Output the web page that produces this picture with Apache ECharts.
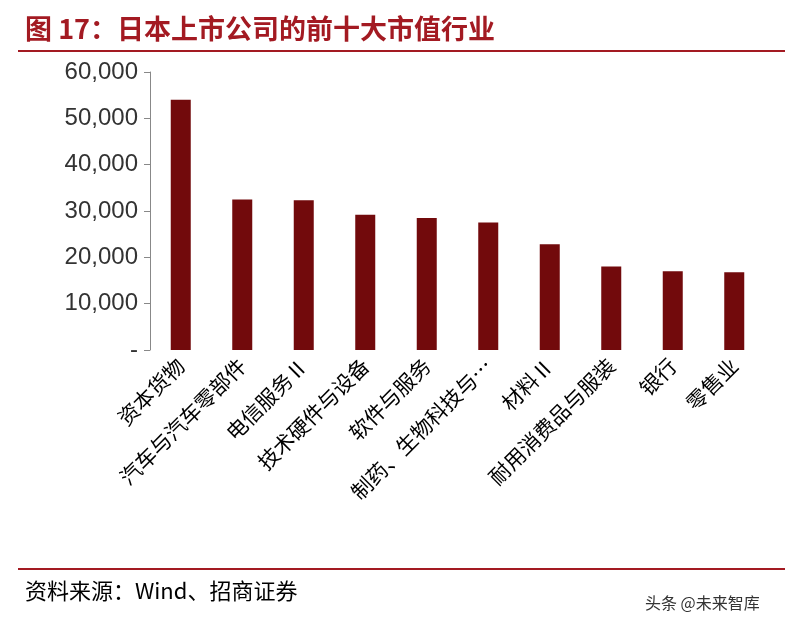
<!DOCTYPE html>
<html><head><meta charset="utf-8">
<script src="https://cdn.jsdelivr.net/npm/echarts@6/dist/echarts.min.js"></script>
<style>body{margin:0}#c{width:805px;height:625px}</style></head>
<body><div id="c"></div>
<script>
const categories=['资本货物','汽车与汽车零部件','电信服务Ⅱ','技术硬件与设备','软件与服务','制药、生物科技与…','材料Ⅱ','耐用消费品与服装','银行','零售业'];
const values=[54000,32500,32300,29200,28500,27500,22800,18000,17000,16800];
const yTicks=[0,10000,20000,30000,40000,50000,60000];
const red='#720A0C';
const chart=echarts.init(document.getElementById('c'));
chart.setOption({
 animation:false,
 title:[{text:'图 17：日本上市公司的前十大市值行业',left:20,top:10,textStyle:{color:'#A31A22',fontSize:27,fontWeight:'bold',fontFamily:'Noto Sans CJK SC'}},
 {text:'资料来源：Wind、招商证券',left:20,top:575,textStyle:{color:'#000',fontSize:22,fontWeight:'normal',fontFamily:'Noto Sans CJK SC'}},
 {text:'头条 @未来智库',left:640,top:590,textStyle:{color:'#333',fontSize:16,fontWeight:'normal',fontFamily:'Noto Sans CJK SC'}}],
 graphic:[{type:'line',shape:{x1:18,y1:51,x2:785,y2:51},style:{stroke:'#A31A22',lineWidth:2}},
 {type:'line',shape:{x1:18,y1:569,x2:785,y2:569},style:{stroke:'#A31A22',lineWidth:2}}],
 grid:{left:150,top:72,right:40,bottom:275},
 xAxis:{type:'category',data:categories,axisTick:{show:false},axisLine:{show:false},
  axisLabel:{rotate:45,interval:0,fontSize:21,color:'#000',fontFamily:'Noto Sans CJK SC',margin:12}},
 yAxis:{type:'value',min:0,max:60000,interval:10000,splitLine:{show:false},
  axisLine:{show:true,lineStyle:{color:'#888'}},axisTick:{show:true,inside:false,length:6,lineStyle:{color:'#888'}},
  axisLabel:{fontSize:24,color:'#333',fontFamily:'Liberation Sans',margin:12,
   formatter:v=>v===yTicks[0]?'-':v.toLocaleString('en-US')}},
 series:[{type:'bar',data:values,barWidth:20,itemStyle:{color:red}}]
});
</script></body></html>
